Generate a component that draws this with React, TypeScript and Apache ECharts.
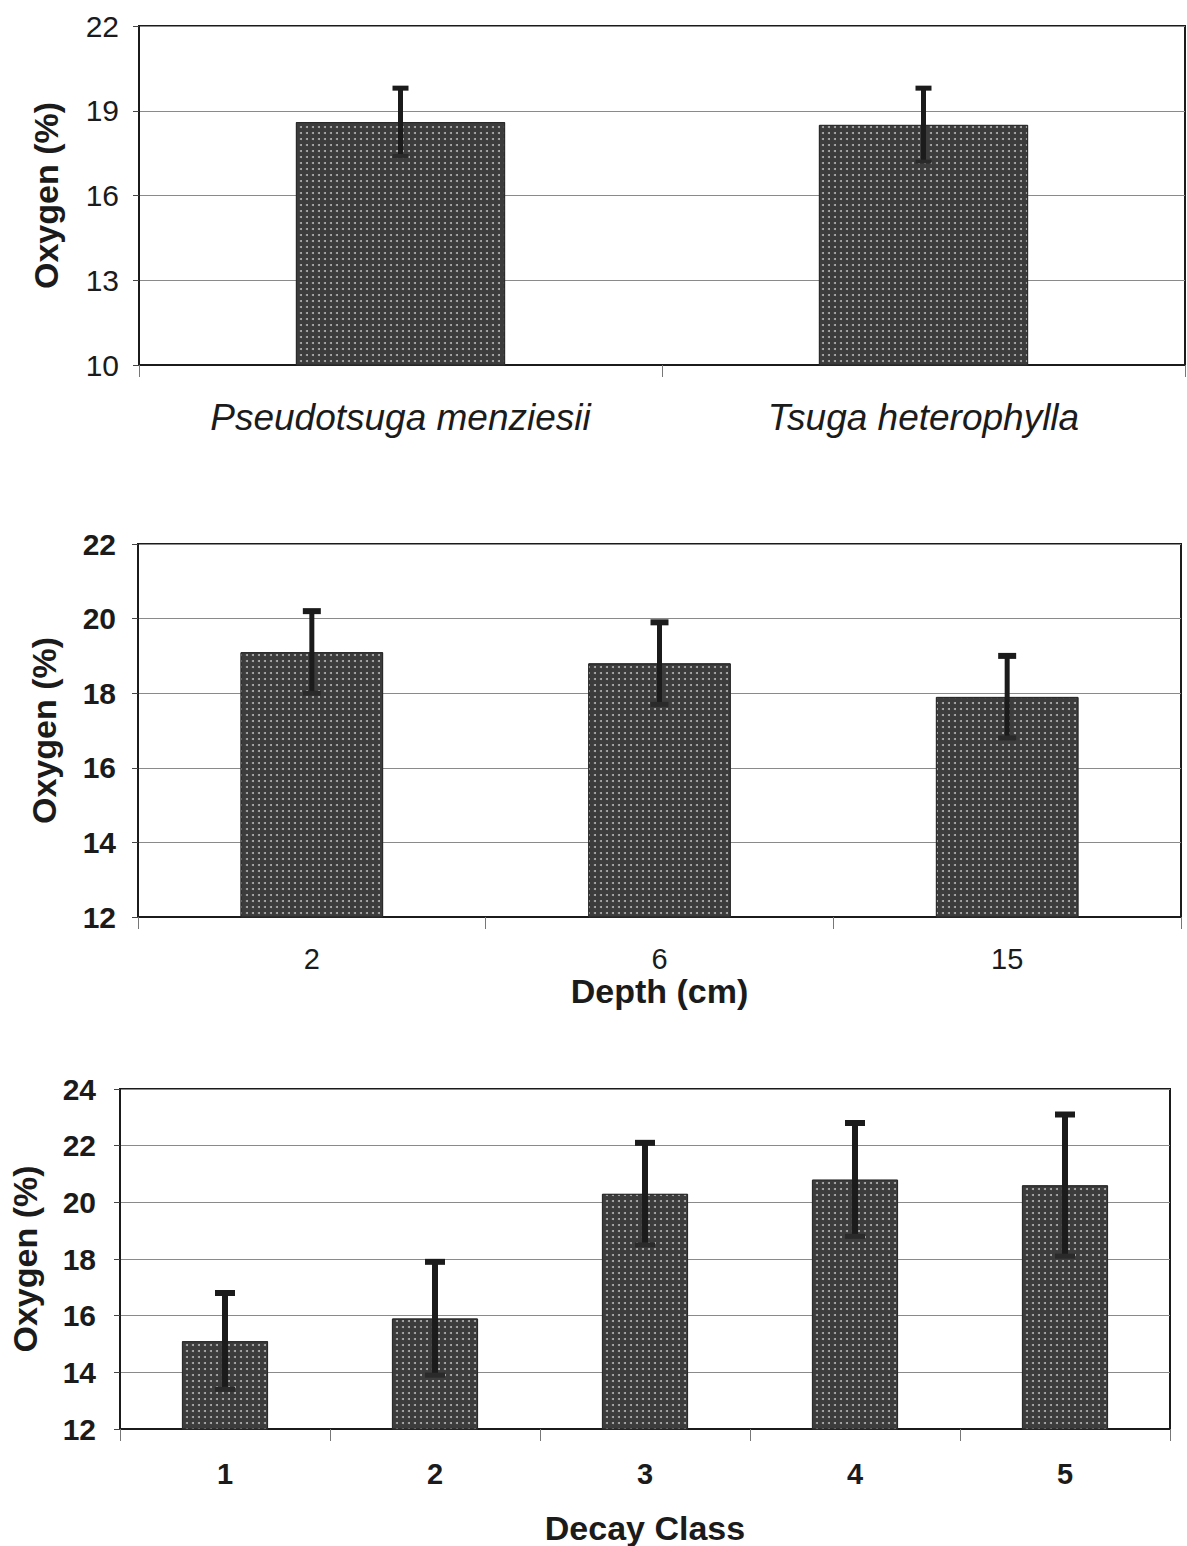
import React, { useEffect, useRef } from 'react';
import * as echarts from 'echarts';

// Panel 1: species
const speciesCats = ['Pseudotsuga menziesii', 'Tsuga heterophylla'];
const speciesMeans = [18.6, 18.5];
const speciesSd = [1.2, 1.3];

// Panel 2: depth (cm)
const depthCats = ['2', '6', '15'];
const depthMeans = [19.1, 18.8, 17.9];
const depthSd = [1.1, 1.1, 1.1];

// Panel 3: decay class
const decayCats = ['1', '2', '3', '4', '5'];
const decayMeans = [15.1, 15.9, 20.3, 20.8, 20.6];
const decaySd = [1.7, 2.0, 1.8, 2.0, 2.5];

const yTitle = 'Oxygen (%)';
const depthTitle = 'Depth (cm)';
const decayTitle = 'Decay Class';

const FONT = '"Liberation Sans", Arial, Helvetica, sans-serif';
const INK = '#1b1b1b';

const errData = (means: number[], sd: number[]) =>
  means.map((m, i) => [i, m - sd[i], m + sd[i]]);

const makeErr = (capHalf: number, lw: number, capW: number) => (params: any, api: any) => {
  const i = api.value(0);
  const lo = api.coord([i, api.value(1)]);
  const hi = api.coord([i, api.value(2)]);
  return {
    type: 'group',
    children: [
      { type: 'line', shape: { x1: hi[0], y1: hi[1], x2: lo[0], y2: lo[1] }, style: { stroke: INK, lineWidth: lw } },
      { type: 'line', shape: { x1: hi[0] - capHalf, y1: hi[1], x2: hi[0] + capHalf, y2: hi[1] }, style: { stroke: INK, lineWidth: capW } },
      { type: 'line', shape: { x1: lo[0] - capHalf, y1: lo[1], x2: lo[0] + capHalf, y2: lo[1] }, style: { stroke: '#2a2a2a', lineWidth: capW - 1 } },
    ],
  };
};

const barStyle = {
  color: '#3c3c3c',
  borderColor: '#2b2b2b',
  borderWidth: 1,
  decal: {
    symbol: 'circle',
    symbolSize: 1,
    color: 'rgba(210,210,210,0.8)',
    dashArrayX: [2, 3.5],
    dashArrayY: [2, 3.5],
    rotation: 0,
  },
};

const gridCommon = { show: true, borderColor: INK, borderWidth: 2, backgroundColor: '#fff' };

const yAxisCommon = (gridIndex: number, min: number, max: number, interval: number, bold: boolean, margin: number, nameGap: number) => ({
  type: 'value',
  gridIndex,
  min,
  max,
  interval,
  name: yTitle,
  nameLocation: 'middle',
  nameRotate: 90,
  nameGap,
  nameTextStyle: { fontFamily: FONT, fontSize: 34, fontWeight: 'bold', color: INK },
  axisLine: { show: true, lineStyle: { color: INK, width: 2 } },
  axisTick: { show: true, length: 6, lineStyle: { color: '#444', width: 1 } },
  axisLabel: { fontFamily: FONT, fontSize: 30, fontWeight: bold ? 'bold' : 'normal', color: INK, margin },
  splitLine: { show: true, lineStyle: { color: '#8a8a8a', width: 1 } },
});

const xAxisCommon = (gridIndex: number, data: string[], label: any, name?: string, nameGap?: number) => ({
  type: 'category',
  gridIndex,
  data,
  name: name || '',
  nameLocation: 'middle',
  nameGap: nameGap || 0,
  nameTextStyle: { fontFamily: FONT, fontSize: 34, fontWeight: 'bold', color: INK },
  axisLine: { show: true, lineStyle: { color: INK, width: 2 } },
  axisTick: { show: true, length: 12, lineStyle: { color: '#777', width: 1 } },
  axisLabel: { fontFamily: FONT, color: INK, ...label },
  splitLine: { show: false },
});

export default function App() {
  const ref = useRef<HTMLDivElement>(null);
  useEffect(() => {
    if (!ref.current) return;
    const chart = echarts.init(ref.current, undefined, { renderer: 'svg' });
    chart.setOption({
      animation: false,
      backgroundColor: '#ffffff',
      grid: [
        { ...gridCommon, left: 139, top: 26, width: 1046, height: 339 },
        { ...gridCommon, left: 138, top: 544, width: 1043, height: 373 },
        { ...gridCommon, left: 120, top: 1089, width: 1050, height: 340 },
      ],
      xAxis: [
        xAxisCommon(0, speciesCats, { fontSize: 37, fontStyle: 'italic', margin: 34 }),
        xAxisCommon(1, depthCats, { fontSize: 29, margin: 27 }, depthTitle, 49),
        xAxisCommon(2, decayCats, { fontSize: 29, fontWeight: 'bold', margin: 30 }, decayTitle, 82),
      ],
      yAxis: [
        yAxisCommon(0, 10, 22, 3, false, 20, 76),
        yAxisCommon(1, 12, 22, 2, true, 22, 77),
        yAxisCommon(2, 12, 24, 2, true, 24, 78),
      ],
      series: [
        { type: 'bar', xAxisIndex: 0, yAxisIndex: 0, data: speciesMeans, barWidth: '40%', itemStyle: barStyle },
        { type: 'custom', xAxisIndex: 0, yAxisIndex: 0, data: errData(speciesMeans, speciesSd), renderItem: makeErr(8, 5, 5), encode: { x: 0, y: [1, 2] }, z: 10 },
        { type: 'bar', xAxisIndex: 1, yAxisIndex: 1, data: depthMeans, barWidth: '41%', itemStyle: barStyle },
        { type: 'custom', xAxisIndex: 1, yAxisIndex: 1, data: errData(depthMeans, depthSd), renderItem: makeErr(9, 5, 6), encode: { x: 0, y: [1, 2] }, z: 10 },
        { type: 'bar', xAxisIndex: 2, yAxisIndex: 2, data: decayMeans, barWidth: '41%', itemStyle: barStyle },
        { type: 'custom', xAxisIndex: 2, yAxisIndex: 2, data: errData(decayMeans, decaySd), renderItem: makeErr(10, 6, 6), encode: { x: 0, y: [1, 2] }, z: 10 },
      ],
    });
    return () => chart.dispose();
  }, []);
  return <div ref={ref} style={{ position: 'absolute', left: 0, top: 0, width: 1187, height: 1546, background: '#fff' }} />;
}
